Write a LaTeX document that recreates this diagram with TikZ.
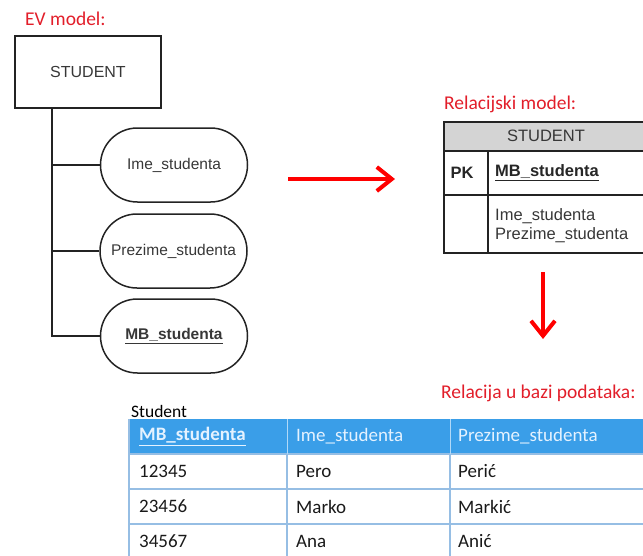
\documentclass[tikz,border=0pt]{standalone}
\usepackage{fontspec}
\setmainfont{Liberation Sans}
\newfontfamily\calibri{Carlito}
\usetikzlibrary{arrows.meta}
\definecolor{labred}{RGB}{226,30,42}
\definecolor{evgray}{RGB}{55,55,55}
\definecolor{evline}{RGB}{35,35,35}
\definecolor{hdrgray}{RGB}{212,212,212}
\definecolor{tblblue}{RGB}{58,158,232}
\definecolor{gridblue}{RGB}{150,190,228}
\definecolor{hdrtext}{RGB}{228,242,255}
\definecolor{bodytext}{RGB}{25,25,25}
\tikzset{
  redlabel/.style={anchor=base west, inner sep=0pt, text=labred, font=\calibri\fontsize{19.5}{23}\selectfont},
  evbox/.style={draw=evline, line width=1.5pt, minimum width=146pt, minimum height=72pt, inner sep=0pt, text=evgray, font=\fontsize{16}{19}\selectfont},
  attrbox/.style={draw=evline, line width=1.5pt, rounded corners=36.9pt, minimum width=147pt, minimum height=74pt, inner sep=0pt, text=evgray, font=\fontsize{15.5}{19}\selectfont},
  evconn/.style={draw=evline, line width=1.5pt},
  redarrow/.style={draw=red, line width=4pt, -{Straight Barb[length=15pt,width=24pt]}},
  reltext/.style={inner sep=0pt, text=evgray, font=\fontsize{16.5}{20}\selectfont},
  relline/.style={draw=evline, line width=1.4pt},
  dbhead/.style={anchor=west, inner sep=0pt, text=hdrtext, font=\calibri\fontsize{19}{23}\selectfont},
  dbcell/.style={anchor=west, inner sep=0pt, text=bodytext, font=\calibri\fontsize{19}{23}\selectfont},
  dbgrid/.style={draw=gridblue, line width=1.4pt}
}
\begin{document}
\begin{tikzpicture}[x=1pt,y=-1pt]
\useasboundingbox (0,0) rectangle (643,555);

% ---------- EV model ----------
\node[redlabel] (evlab) at (25,25.5) {EV model:};
\node[evbox] (ev) at (88,72) {STUDENT};
\node[attrbox] (ime) at (174,165) {Ime\_studenta};
\node[attrbox] (prez) at (173.5,251) {Prezime\_studenta};
\node[attrbox] (mb) at (174,336) {\underline{\textbf{MB\_studenta}}};
\coordinate (t0) at ([xshift=-36pt]ev.south);
\draw[evconn] (t0) |- (mb.west);
\draw[evconn] (ime.west -| t0) -- (ime.west);
\draw[evconn] (prez.west -| t0) -- (prez.west);

% ---------- arrows ----------
\coordinate (a1s) at (288,179);
\coordinate (a1e) at (395,179);
\draw[redarrow] (a1s) -- (a1e);
\coordinate (a2s) at (543,272);
\coordinate (a2e) at (543,339);
\draw[redarrow] (a2s) -- (a2e);

% ---------- relational model ----------
\node[redlabel] (rellab) at (444,109.5) {Relacijski model:};
\fill[hdrgray] (444,122) rectangle (660,151);
\draw[relline] (444,122) rectangle (660,253);
\draw[relline] (444,151) -- (660,151);
\draw[relline] (444,195) -- (660,195);
\draw[relline] (488,151) -- (488,253);
\node[reltext] (relhead) at (546,136) {STUDENT};
\node[reltext, font=\bfseries\fontsize{16.5}{20}\selectfont, text=black!85] (pk) at (462,173) {PK};
\node[reltext, anchor=west, font=\bfseries\fontsize{16.5}{20}\selectfont, text=black!85] (pkattr) at (495,173) {\underline{MB\_studenta}};
\node[reltext, anchor=west, align=left] (attrs) at (495,226) {Ime\_studenta\\[-1pt]Prezime\_studenta};

% ---------- database relation ----------
\node[redlabel] (dblab) at (441,398) {Relacija u bazi podataka:};
\node[anchor=base west, inner sep=0pt, text=black, font=\calibri\fontsize{17.5}{21}\selectfont] (dbname) at (131,417) {Student};
\fill[tblblue] (129,419) rectangle (660,454);
\draw[dbgrid] (129,454) -- (660,454);
\draw[dbgrid] (129,489) -- (660,489);
\draw[dbgrid] (129,524) -- (660,524);
\draw[dbgrid] (129,419) -- (129,560);
\draw[dbgrid] (287,454) -- (287,560);
\draw[dbgrid] (450,454) -- (450,560);
\draw[draw=hdrtext!70!tblblue, line width=1pt] (287,419) -- (287,454);
\draw[draw=hdrtext!70!tblblue, line width=1pt] (450,419) -- (450,454);
\node[dbhead, font=\calibri\bfseries\fontsize{19}{23}\selectfont] (h1) at (139,436.5) {\underline{MB\_studenta}};
\node[dbhead] (h2) at (296,436.5) {Ime\_studenta};
\node[dbhead] (h3) at (458,436.5) {Prezime\_studenta};
\node[dbcell] (c11) at (139,471.5) {12345};
\node[dbcell] (c12) at (296,471.5) {Pero};
\node[dbcell] (c13) at (458,471.5) {Perić};
\node[dbcell] (c21) at (139,506.5) {23456};
\node[dbcell] (c22) at (296,506.5) {Marko};
\node[dbcell] (c23) at (458,506.5) {Markić};
\node[dbcell] (c31) at (139,541.5) {34567};
\node[dbcell] (c32) at (296,541.5) {Ana};
\node[dbcell] (c33) at (458,541.5) {Anić};
\end{tikzpicture}
\end{document}
